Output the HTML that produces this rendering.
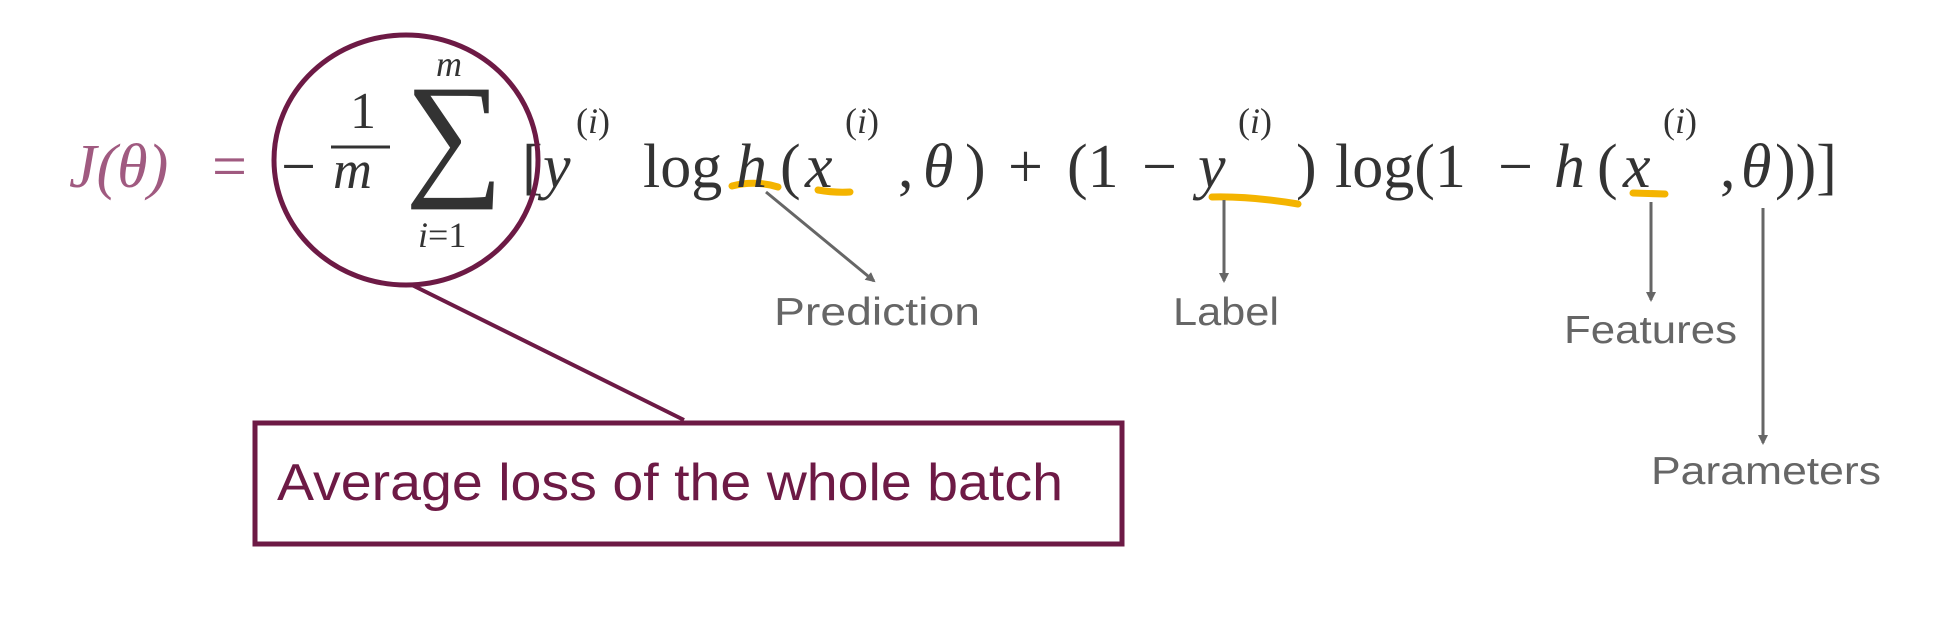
<!DOCTYPE html>
<html><head><meta charset="utf-8"><style>
html,body{margin:0;padding:0;background:#fff;}
svg{display:block}
.m{font-family:"Liberation Serif",serif;font-size:62px;fill:#333}
.i{font-style:italic}
.s{font-size:36px}
.lbl{font-family:"Liberation Sans",sans-serif;font-size:39px;fill:#666}
</style></head><body>
<svg width="1957" height="643" viewBox="0 0 1957 643" xmlns="http://www.w3.org/2000/svg">
<defs><marker id="a" markerWidth="10" markerHeight="10" refX="8" refY="5" orient="auto" markerUnits="userSpaceOnUse"><path d="M0,0 L10,5 L0,10 Z" fill="#666"/></marker></defs>
<g stroke="#f4b400" stroke-width="7" stroke-linecap="round" fill="none">
<path d="M732,186 Q755,180 778,187"/>
<path d="M818,190 Q835,193 850,192"/>
<path d="M1212,197 Q1250,196 1298,204"/>
<path d="M1633,193 L1665,194"/>
</g>
<text class="m i" x="69" y="187" style="fill:#a05a80">J(θ)</text>
<text class="m" x="212" y="187" style="fill:#a05a80">=</text>
<text class="m" x="281" y="187">−</text>
<text class="m" x="350" y="128" style="font-size:52px">1</text>
<line x1="331" y1="147" x2="390" y2="147" stroke="#333" stroke-width="3"/>
<text class="m i" x="333" y="188" style="font-size:54px">m</text>
<text class="m" x="405" y="180" style="font-size:138px">∑</text>
<text class="m i s" x="436" y="76">m</text>
<text class="m s" x="418" y="247"><tspan class="i">i</tspan>=1</text>
<text class="m" x="522" y="187">[</text>
<text class="m i" x="543" y="187">y</text>
<text class="m s" x="576" y="133">(<tspan class="i">i</tspan>)</text>
<text class="m" x="643" y="187">log</text>
<text class="m i" x="736" y="187">h</text>
<text class="m" x="780" y="187">(</text>
<text class="m i" x="805" y="187">x</text>
<text class="m s" x="845" y="133">(<tspan class="i">i</tspan>)</text>
<text class="m" x="898" y="187">,</text>
<text class="m i" x="923" y="187">θ</text>
<text class="m" x="965" y="187">)</text>
<text class="m" x="1008" y="187">+</text>
<text class="m" x="1067" y="187">(1</text>
<text class="m" x="1142" y="187">−</text>
<text class="m i" x="1198" y="187">y</text>
<text class="m s" x="1238" y="133">(<tspan class="i">i</tspan>)</text>
<text class="m" x="1296" y="187">)</text>
<text class="m" x="1335" y="187">log(1</text>
<text class="m" x="1498" y="187">−</text>
<text class="m i" x="1554" y="187">h</text>
<text class="m" x="1597" y="187">(</text>
<text class="m i" x="1623" y="187">x</text>
<text class="m s" x="1663" y="133">(<tspan class="i">i</tspan>)</text>
<text class="m" x="1720" y="187">,</text>
<text class="m i" x="1741" y="187">θ</text>
<text class="m" x="1775" y="187">))]</text>
<ellipse cx="406" cy="160" rx="132" ry="125" fill="none" stroke="#6d1a45" stroke-width="5"/>
<line x1="412" y1="285" x2="684" y2="420" stroke="#6d1a45" stroke-width="4"/>
<rect x="255" y="423" width="867" height="121" fill="none" stroke="#6d1a45" stroke-width="5"/>
<text x="277" y="500" textLength="786" lengthAdjust="spacingAndGlyphs" style="font-family:'Liberation Sans',sans-serif;font-size:52px;fill:#6d1a45">Average loss of the whole batch</text>
<g stroke="#666" stroke-width="3" marker-end="url(#a)">
<line x1="766" y1="192" x2="874" y2="281"/>
<line x1="1224" y1="200" x2="1224" y2="281"/>
<line x1="1651" y1="202" x2="1651" y2="300"/>
<line x1="1763" y1="208" x2="1763" y2="443"/>
</g>
<text class="lbl" x="774" y="325" textLength="206" lengthAdjust="spacingAndGlyphs">Prediction</text>
<text class="lbl" x="1173" y="325" textLength="106" lengthAdjust="spacingAndGlyphs">Label</text>
<text class="lbl" x="1564" y="343" textLength="173" lengthAdjust="spacingAndGlyphs">Features</text>
<text class="lbl" x="1651" y="484" textLength="230" lengthAdjust="spacingAndGlyphs">Parameters</text>
</svg>
</body></html>
